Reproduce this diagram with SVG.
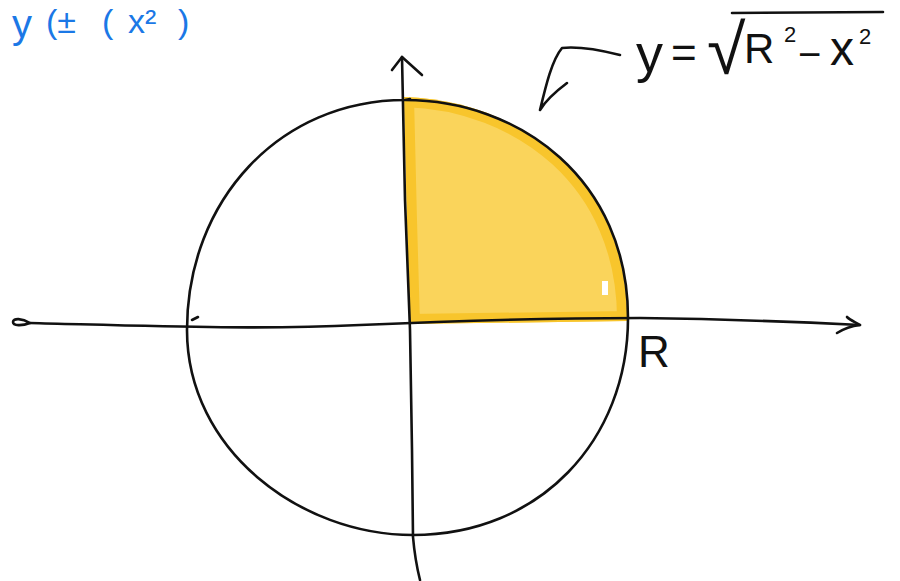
<svg xmlns="http://www.w3.org/2000/svg" width="900" height="581" viewBox="0 0 900 581">
<style>
.ink{fill:none;stroke:#111;stroke-width:2.6;stroke-linecap:round;stroke-linejoin:round}
.txt{font-family:"Liberation Sans",Arial,sans-serif;fill:#111}
.blue{font-family:"Liberation Sans",Arial,sans-serif;fill:#1B78E6}
</style>
<defs>
<clipPath id="qclip"><path d="M404,97 L407,220 L410,324 L627,321 C628,180 520,100 404,97 Z"/></clipPath>
</defs>
<rect width="900" height="581" fill="#fff"/>
<g id="blue-note">
<text class="blue" font-size="40" x="12" y="38">y</text>
<text class="blue" font-size="34" x="46" y="33">(±</text>
<text class="blue" font-size="34" x="102" y="33">(</text>
<text class="blue" font-size="34" x="128" y="33">x²</text>
<text class="blue" font-size="34" x="178" y="33">)</text>
</g>
<g id="quarter-region">
<path d="M404,97 L407,220 L410,324 L627,321 C628,180 520,100 404,97 Z" fill="#FAD45B"/>
<path d="M404,97 L407,220 L410,324 L627,321 C628,180 520,100 404,97 Z" fill="none" stroke="#F8C52C" stroke-width="20" clip-path="url(#qclip)"/>
<rect x="602" y="281" width="6" height="14" fill="#fff"/>
</g>
<g id="circle">
<path class="ink" d="M405,100 C520,100 628,180 628,318 C628,440 540,535 413,535 C300,535 187,450 187,330 C187,200 280,100 405,100 L410,99"/>
<path class="ink" d="M192,320 L198,317" stroke-width="2"/>
</g>
<g id="connectors">
<path id="y-axis" class="ink" d="M402,57 L405,200 L410,330 L412,450 L413,537 Q415,560 420,580"/>
<path class="ink" d="M392,70 L402,57 L422,75"/>
<path id="x-axis" class="ink" d="M30,323 C150,326 250,330 360,325 S560,318 640,318 C720,319 800,322 860,325"/>
<path class="ink" stroke-width="1.8" d="M30,323 C22,318 13,318 13,322 C13,326 22,326 30,323"/>
<path class="ink" d="M837,333 C845,328 852,326 860,325 C855,322 850,320 847,317"/>
<path id="pointer" class="ink" d="M620,55 C600,50 580,46 562,48 C552,60 546,85 540,110 M567,83 C555,92 546,100 540,110"/>
</g>
<g id="formula">
<text class="txt" font-size="54" x="636" y="72">y</text>
<text class="txt" font-size="44" x="671" y="68">=</text>
<text class="txt" font-size="70" x="707" y="74">√</text>
<path class="ink" d="M732,13 L883,12" stroke-width="3"/>
<text class="txt" font-size="42" x="744" y="63">R</text>
<text class="txt" font-size="22" x="784" y="42">2</text>
<text class="txt" font-size="40" x="798" y="68">−</text>
<text class="txt" font-size="48" x="830" y="65">x</text>
<text class="txt" font-size="22" x="859" y="44">2</text>
</g>
<g id="label-R">
<text class="txt" font-size="44" x="638" y="367">R</text>
</g>
</svg>
